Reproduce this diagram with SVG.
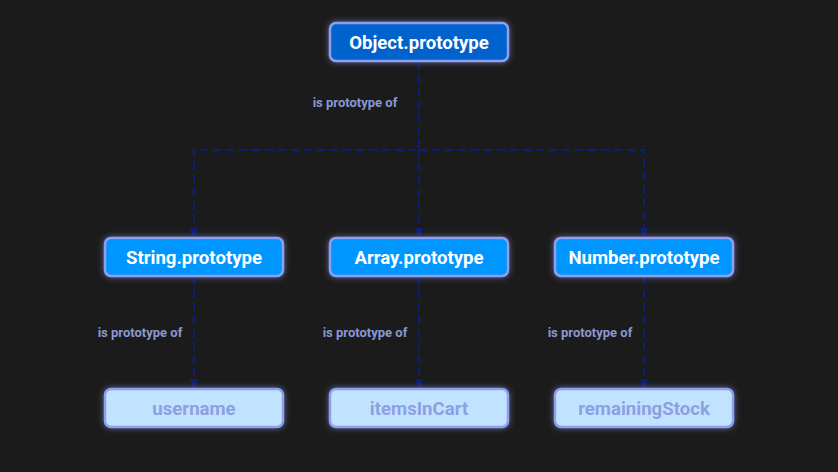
<svg xmlns="http://www.w3.org/2000/svg" width="838" height="472" viewBox="0 0 838 472">
<style>
.box{stroke:#8e9ff0;stroke-width:2.5;filter:url(#glow)}
.top{fill:#0062cc}
.mid{fill:#0096ff}
.leaf{fill:#c2e3ff}
.t{font-family:Roboto,"Liberation Sans",sans-serif;font-weight:700;font-size:18.6px;text-anchor:middle}
.tw{fill:#ffffff}
.tl{fill:#8e9fe2}
.lbl{font-family:Roboto,"Liberation Sans",sans-serif;font-weight:700;font-size:13px;fill:#8a97d2;text-anchor:middle}
.edge{stroke:#0c1f78;stroke-width:2;fill:none;stroke-dasharray:8,5}
</style>
<defs>
<filter id="glow" x="-20%" y="-50%" width="140%" height="200%">
<feGaussianBlur in="SourceAlpha" stdDeviation="3" result="b"/>
<feFlood flood-color="#9aa8ff" flood-opacity="0.55"/>
<feComposite in2="b" operator="in" result="g"/>
<feMerge><feMergeNode in="g"/><feMergeNode in="SourceGraphic"/></feMerge>
</filter>
<marker id="arr" viewBox="0 0 10 10" refX="10" refY="5" markerWidth="10" markerHeight="9" markerUnits="userSpaceOnUse" orient="auto">
<path d="M0,0 L10,5 L0,10 Z" fill="#0c1f78"/>
</marker>
</defs>
<rect width="838" height="472" fill="#1b1b1b"/>
<g id="connectors">
<path class="edge" d="M419,62 V150 H194 V237" marker-end="url(#arr)"/>
<path class="edge" d="M419,150 V237" marker-end="url(#arr)"/>
<path class="edge" d="M419,150 H644 V237" marker-end="url(#arr)"/>
<path class="edge" d="M194,277 V388" marker-end="url(#arr)"/>
<path class="edge" d="M419,277 V388" marker-end="url(#arr)"/>
<path class="edge" d="M644,277 V388" marker-end="url(#arr)"/>
<text class="lbl" x="355" y="107">is prototype of</text>
<text class="lbl" x="140" y="337">is prototype of</text>
<text class="lbl" x="365" y="337">is prototype of</text>
<text class="lbl" x="590" y="337">is prototype of</text>
</g>
<g id="object-prototype">
<rect class="box top" x="330" y="23" width="178" height="38" rx="6"/>
<text class="t tw" x="419" y="48.5">Object.prototype</text>
</g>
<g id="string-prototype">
<rect class="box mid" x="105" y="238" width="178" height="38" rx="6"/>
<text class="t tw" x="194" y="263.5">String.prototype</text>
</g>
<g id="array-prototype">
<rect class="box mid" x="330" y="238" width="178" height="38" rx="6"/>
<text class="t tw" x="419" y="263.5">Array.prototype</text>
</g>
<g id="number-prototype">
<rect class="box mid" x="555" y="238" width="178" height="38" rx="6"/>
<text class="t tw" x="644" y="263.5">Number.prototype</text>
</g>
<g id="username">
<rect class="box leaf" x="105" y="389" width="178" height="38" rx="6"/>
<text class="t tl" x="194" y="414.5">username</text>
</g>
<g id="itemsInCart">
<rect class="box leaf" x="330" y="389" width="178" height="38" rx="6"/>
<text class="t tl" x="419" y="414.5">itemsInCart</text>
</g>
<g id="remainingStock">
<rect class="box leaf" x="555" y="389" width="178" height="38" rx="6"/>
<text class="t tl" x="644" y="414.5">remainingStock</text>
</g>
</svg>
